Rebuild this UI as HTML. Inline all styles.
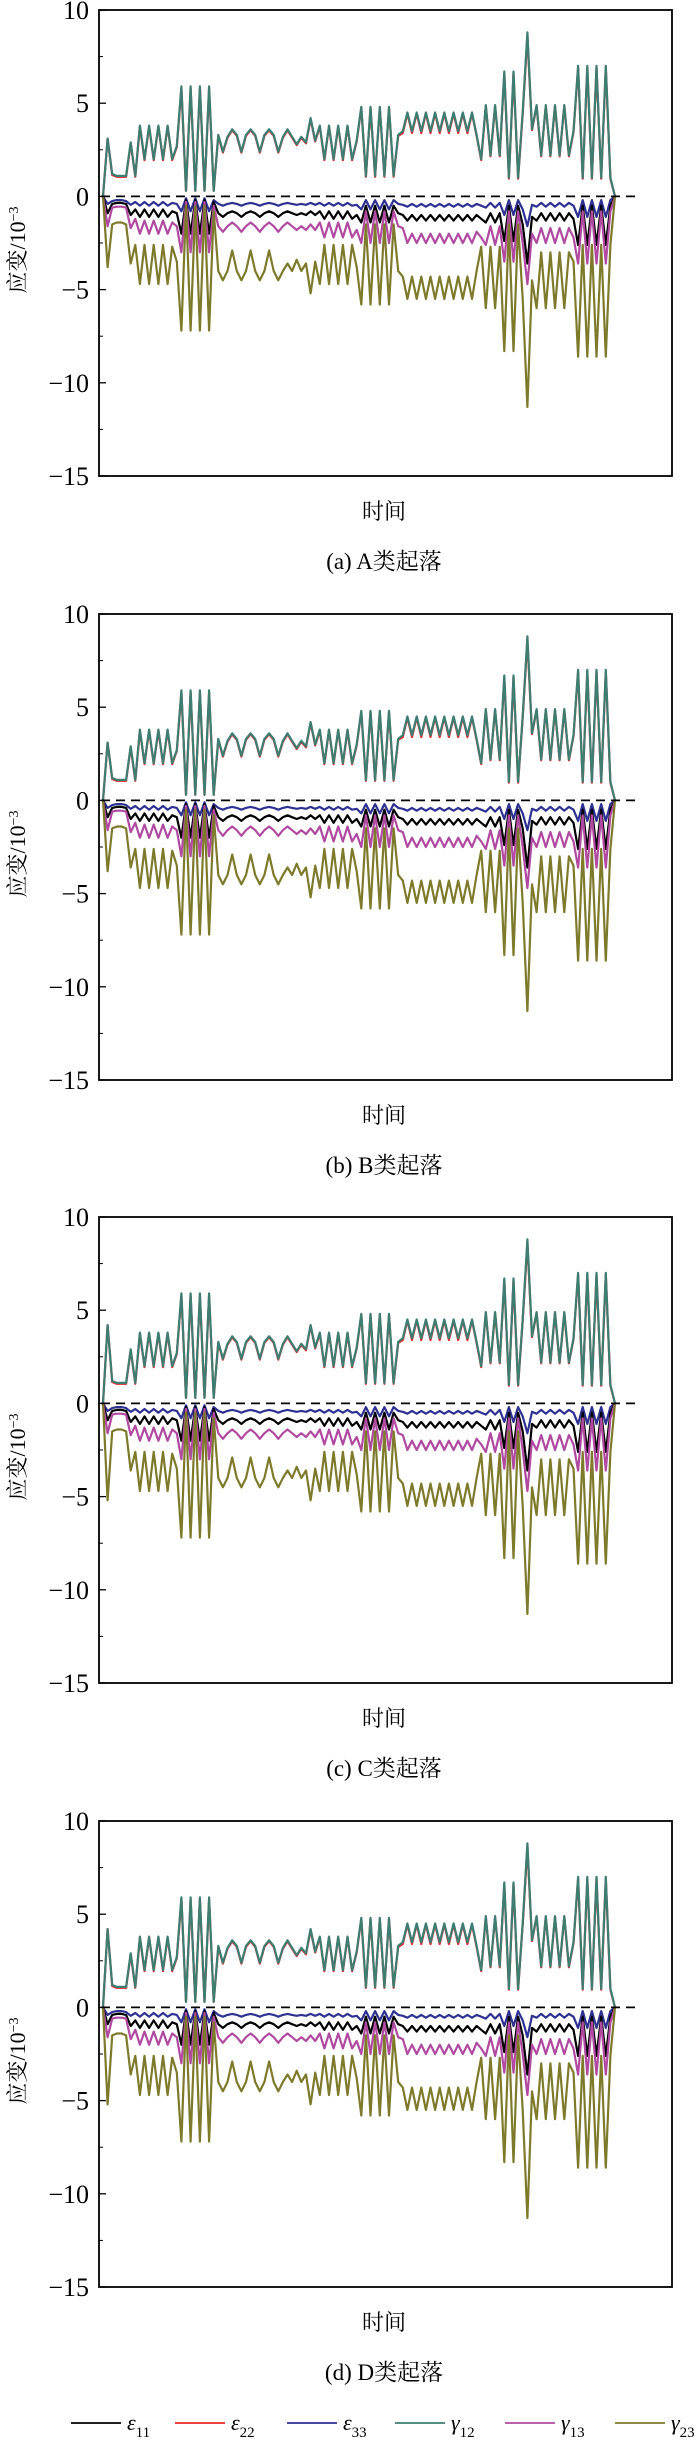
<!DOCTYPE html>
<html><head><meta charset="utf-8"><style>
html,body{margin:0;padding:0;background:#fff;}
svg{display:block;font-family:"Liberation Serif","Noto Serif CJK SC",serif;}
</style></head><body>
<svg id="chart" width="700" height="2449" viewBox="0 0 700 2449" xmlns="http://www.w3.org/2000/svg"></svg>
<script>
const panelTitles = ["(a) A类起落","(b) B类起落","(c) C类起落","(d) D类起落"];
const panelTops = [10, 614, 1217, 1821];
const yTicks = [10,5,0,-5,-10,-15];
const yMinor = [7.5,2.5,-2.5,-7.5,-12.5];
const firstPeakG12 = [3.1,3.1,4.2,4.2];
const firstPeakG23 = [-3.8,-3.8,-5.2,-5.2];
const seriesNames = ["ε11","ε22","ε33","γ12","γ13","γ23"];
const g12 = [0,3.1,1.2,1.1,1.1,1.1,2.9,1.1, 3.8,2.0,3.8,2.0,3.8,2.0,3.8,2.0, 2.7, 5.9,0.3,5.9,0.3,5.9,0.3,5.9,0.3, 3.3,2.4,3.2,3.6,3.3,2.4,3.3,3.6,3.3,2.4,3.3,3.6,3.3,2.4,3.2,3.6,3.2,2.8,3.2,2.9, 4.2, 3.0,3.8,2.0,3.8,2.0,3.8,2.0,3.8,2.0,3.0, 4.8,1.1,4.8,1.1,4.8,1.1,4.8,1.1, 3.3,3.5, 4.5,3.5,4.5,3.5,4.5,3.5,4.5,3.5,4.5,3.5,4.5,3.5,4.5,3.5,4.5, 3.3,2.0, 4.9,2.2,4.9,2.2, 6.7,1.0,6.7,1.0, 4.5, 8.8, 3.6,4.9,2.2,4.9,2.2,4.9,2.2,4.9,2.2, 3.5, 7.0,1.0,7.0,1.0,7.0,1.0,7.0,1.0, 0];
const e22 = [0,3.1,1.15,1.05,1.05,1.05,2.85,1.05, 3.75,1.95,3.75,1.95,3.75,1.95,3.75,1.95, 2.65, 5.8,0.3,5.8,0.3,5.8,0.3,5.8,0.3, 3.25,2.35,3.15,3.55,3.25,2.35,3.25,3.55,3.25,2.35,3.25,3.55,3.25,2.35,3.15,3.55,3.15,2.75,3.15,2.85, 4.15, 2.95,3.75,1.95,3.75,1.95,3.75,1.95,3.75,1.95,2.95, 4.75,1.05,4.75,1.05,4.75,1.05,4.75,1.05, 3.25,3.4, 4.45,3.4,4.45,3.4,4.45,3.4,4.45,3.4,4.45,3.4,4.45,3.4,4.45,3.4,4.45, 3.25,1.95, 4.85,2.15,4.85,2.15, 6.6,0.95,6.6,0.95, 4.45, 8.6, 3.55,4.85,2.15,4.85,2.15,4.85,2.15,4.85,2.15, 3.45, 6.9,0.95,6.9,0.95,6.9,0.95,6.9,0.95, 0];
const e11 = [0,-0.9,-0.4,-0.35,-0.35,-0.4,-1.0,-0.7, -1.1,-0.7,-1.1,-0.7,-1.1,-0.7,-1.1,-0.8, -0.9, -2.0,-0.2,-2.0,-0.2,-2.0,-0.2,-2.0,-0.3, -0.9,-1.1,-0.9,-0.8,-0.9,-1.1,-0.9,-0.8,-0.9,-1.1,-0.9,-0.8,-0.9,-1.1,-0.9,-0.8,-0.9,-1.0,-0.9,-1.0, -0.8, -1.0,-0.8,-1.2,-0.8,-1.2,-0.8,-1.2,-0.8,-1.2,-1.0, -1.4,-0.5,-1.4,-0.5,-1.4,-0.5,-1.4,-0.5, -0.9,-1.0, -1.3,-1.0,-1.3,-1.0,-1.3,-1.0,-1.3,-1.0,-1.3,-1.0,-1.3,-1.0,-1.3,-1.0,-1.3, -1.0,-1.2, -1.4,-0.9,-1.4,-0.9, -2.4,-0.5,-2.4,-0.5, -1.5, -3.6, -1.1,-1.3,-0.9,-1.3,-0.9,-1.3,-0.9,-1.3,-0.9, -1.2, -2.6,-0.5,-2.6,-0.5,-2.6,-0.5,-2.6,-0.5, 0];
const e33 = [0,-0.4,-0.25,-0.2,-0.2,-0.25,-0.45,-0.3, -0.5,-0.3,-0.5,-0.3,-0.5,-0.3,-0.5,-0.35, -0.4, -0.8,-0.1,-0.8,-0.1,-0.8,-0.1,-0.8,-0.2, -0.4,-0.5,-0.4,-0.35,-0.4,-0.5,-0.4,-0.35,-0.4,-0.5,-0.4,-0.35,-0.4,-0.5,-0.4,-0.35,-0.4,-0.45,-0.4,-0.45, -0.35, -0.45,-0.35,-0.5,-0.35,-0.5,-0.35,-0.5,-0.35,-0.5,-0.45, -0.7,-0.2,-0.7,-0.2,-0.7,-0.2,-0.7,-0.2, -0.4,-0.45, -0.55,-0.4,-0.55,-0.4,-0.55,-0.4,-0.55,-0.4,-0.55,-0.4,-0.55,-0.4,-0.55,-0.4,-0.55, -0.4,-0.5, -0.6,-0.35,-0.6,-0.35, -1.0,-0.2,-1.0,-0.2, -0.7, -1.6, -0.45,-0.55,-0.35,-0.55,-0.35,-0.55,-0.35,-0.55,-0.35, -0.5, -1.1,-0.2,-1.1,-0.2,-1.1,-0.2,-1.1,-0.2, 0];
const g13 = [0,-1.6,-0.6,-0.55,-0.55,-0.6,-1.7,-1.2, -2.0,-1.3,-2.0,-1.3,-2.0,-1.3,-2.0,-1.4, -1.6, -3.0,-0.3,-3.0,-0.3,-3.0,-0.3,-3.0,-0.5, -1.6,-1.9,-1.6,-1.4,-1.6,-1.9,-1.6,-1.4,-1.6,-1.9,-1.6,-1.4,-1.6,-1.9,-1.6,-1.4,-1.6,-1.8,-1.6,-1.8, -1.5, -1.8,-1.4,-2.2,-1.4,-2.2,-1.4,-2.2,-1.4,-2.2,-1.8, -2.5,-0.8,-2.5,-0.8,-2.5,-0.8,-2.5,-0.8, -1.6,-1.7, -2.5,-2.0,-2.5,-2.0,-2.5,-2.0,-2.5,-2.0,-2.5,-2.0,-2.5,-2.0,-2.5,-2.0,-2.5, -1.9,-2.2, -2.6,-1.6,-2.6,-1.6, -3.5,-0.8,-3.5,-0.8, -2.5, -4.7, -2.0,-2.5,-1.7,-2.5,-1.7,-2.5,-1.7,-2.5,-1.7, -2.2, -3.6,-0.8,-3.6,-0.8,-3.6,-0.8,-3.6,-0.8, 0];
const g23 = [0,-3.8,-1.5,-1.4,-1.4,-1.5,-3.6,-2.6, -4.7,-2.6,-4.7,-2.6,-4.7,-2.6,-4.7,-2.7, -3.5, -7.2,-0.5,-7.2,-0.5,-7.2,-0.5,-7.2,-0.8, -4.0,-4.5,-4.0,-2.9,-4.0,-4.5,-4.0,-2.9,-4.0,-4.5,-4.0,-2.9,-4.0,-4.5,-4.0,-3.6,-4.0,-3.4,-4.0,-3.6, -5.2, -3.5,-4.7,-2.6,-4.7,-2.6,-4.7,-2.6,-4.7,-2.6,-3.8, -5.8,-1.5,-5.8,-1.5,-5.8,-1.5,-5.8,-1.5, -4.0,-4.3, -5.5,-4.3,-5.5,-4.3,-5.5,-4.3,-5.5,-4.3,-5.5,-4.3,-5.5,-4.3,-5.5,-4.3,-5.5, -4.0,-2.7, -6.0,-2.7,-6.0,-2.7, -8.3,-1.5,-8.3,-1.5, -5.5, -11.3, -4.5,-6.0,-3.0,-6.0,-3.0,-6.0,-3.0,-6.0,-3.0, -3.5, -8.6,-2.6,-8.6,-2.6,-8.6,-2.6,-8.6,-2.6, 0];

const NS="http://www.w3.org/2000/svg";
const svg=document.getElementById('chart');
const colors=["#000000","#e8262a","#2e3192","#3d7d72","#b04aa0","#7d7a2c"];
const PL=99, PR=672, PH=466, X0=103, X1=615;
function mk(tag,attrs,parent){const e=document.createElementNS(NS,tag);for(const k in attrs)e.setAttribute(k,attrs[k]);(parent||svg).appendChild(e);return e;}
function xScale(i,n){return X0+i*(X1-X0)/(n-1);}

panelTops.forEach((top,p)=>{
  const yScale=v=>top+(10-v)*PH/25;
  const g=mk('g',{});
  
  
  const data=[e11.slice(),e22.slice(),e33.slice(),g12.slice(),g13.slice(),g23.slice()];
  data[3][1]=firstPeakG12[p]; data[1][1]=firstPeakG12[p]; data[5][1]=firstPeakG23[p];
  const order=[1,3,2,0,4,5];
  order.forEach(s=>{
    const arr=data[s];
    const n=arr.length;
    const pts=arr.map((v,i)=>xScale(i,n).toFixed(1)+','+yScale(v).toFixed(1)).join(' ');
    const pl=mk('polyline',{points:pts,fill:'none',stroke:colors[s],'stroke-width':2.2,'stroke-linejoin':'round'},g);
    
    
  });
  const z=mk('line',{x1:PL+2,x2:636,y1:yScale(0),y2:yScale(0),stroke:'#000','stroke-width':1.8,'stroke-dasharray':'9,6'},g);
  
  
  const fr=mk('rect',{x:PL,y:top,width:PR-PL,height:PH,fill:'none',stroke:'#000','stroke-width':1.8},g);
  
  
  yTicks.forEach(t=>{
    const y=yScale(t);
    const tl=mk('line',{x1:PL,x2:PL+7,y1:y,y2:y,stroke:'#000','stroke-width':1.3},g);
    
    
    const tx=mk('text',{x:PL-10,y:y+9,'text-anchor':'end','font-size':26},g);
    tx.textContent=(t<0?'\u2212':'')+Math.abs(t);
    
    
  });
  yMinor.forEach(t=>{
    const y=yScale(t);
    const tl=mk('line',{x1:PL,x2:PL+4,y1:y,y2:y,stroke:'#000','stroke-width':1},g);
    
    
  });
  const yl=mk('text',{x:0,y:0,'font-size':22,'text-anchor':'middle',transform:'translate(25,'+(top+240)+') rotate(-90)'},g);
  yl.innerHTML='应变/10<tspan baseline-shift="super" font-size="14">−3</tspan>';
  
  
  const xl=mk('text',{x:384,y:top+PH+43,'text-anchor':'middle','font-size':22},g);
  xl.textContent='时间';
  
  
  const ct=mk('text',{x:384,y:top+PH+93,'text-anchor':'middle','font-size':23},g);
  ct.textContent=panelTitles[p];
  
  
});

const legX=[71,175,287,395,505,615];
const lg=mk('g',{});


seriesNames.forEach((nm,i)=>{
  const e=mk('g',{},lg);
  
  
  mk('line',{x1:legX[i],x2:legX[i]+50,y1:2423,y2:2423,stroke:colors[i],'stroke-width':1.8},e);
  const t=mk('text',{x:legX[i]+56,y:2430,'font-size':22,'font-style':'italic'},e);
  t.innerHTML=nm[0]+'<tspan dy="7" font-size="15" font-style="normal">'+nm.slice(1)+'</tspan>';
});
</script>
</body></html>
